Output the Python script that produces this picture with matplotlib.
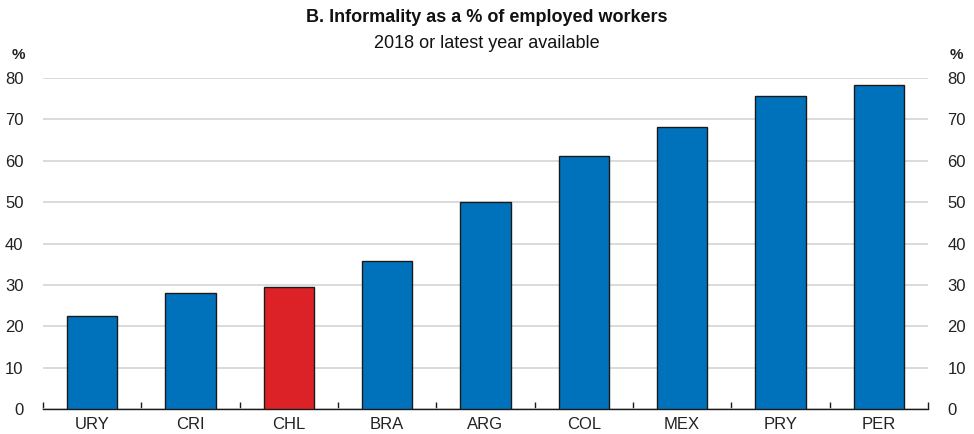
import numpy as np
import matplotlib.pyplot as plt
from matplotlib.ticker import MultipleLocator, FixedLocator

countries = ["URY", "CRI", "CHL", "BRA", "ARG", "COL", "MEX", "PRY", "PER"]
informality = [22.5, 28.1, 29.6, 35.8, 50.0, 61.1, 68.2, 75.6, 78.4]
highlight = "CHL"

blue = "#0072bc"
red = "#dc2227"

plt.rcParams['font.family'] = ['Liberation Sans Narrow', 'Liberation Sans', 'DejaVu Sans']

fig = plt.figure(figsize=(9.74, 4.34), dpi=100)
ax = fig.add_axes([43 / 974, 1 - 409 / 434, (928 - 43) / 974, (409 - 78) / 434])

x = np.arange(len(countries))
colors = [red if c == highlight else blue for c in countries]
ax.bar(x, informality, width=0.51, color=colors, edgecolor="#1a1a1a", linewidth=1.0, zorder=3)

ax.set_xlim(-0.5, len(countries) - 0.5)
ax.set_ylim(0, 80)
ax.yaxis.set_major_locator(MultipleLocator(10))
ax.grid(axis="y", color="#d4d4d4", linewidth=1.2, zorder=0)

for s in ["top", "left", "right"]:
    ax.spines[s].set_visible(False)
ax.spines["bottom"].set_color("#1a1a1a")
ax.spines["bottom"].set_linewidth(1.0)

ax.set_xticks(x)
ax.set_xticklabels(countries, fontsize=12, color="#222222")
ax.tick_params(axis="x", which="major", length=0, pad=6)
ax.xaxis.set_minor_locator(FixedLocator(np.arange(-0.5, len(countries), 1.0)))
ax.tick_params(axis="x", which="minor", direction="in", length=5, width=1.0, color="#1a1a1a")

ax.tick_params(axis="y", which="both", length=0, labelsize=12, labelcolor="#222222",
               left=True, right=True, labelleft=True, labelright=True, pad=14)

fig.text(12 / 974, 1 - 55 / 434, "%", fontsize=11, fontweight="bold", color="#222222", va="center")
fig.text(950 / 974, 1 - 55 / 434, "%", fontsize=11, fontweight="bold", color="#222222", va="center")

fig.text(0.5, 1 - 17 / 434, "B. Informality as a % of employed workers", ha="center", va="center",
         fontsize=13, fontweight="bold", color="#111111")
fig.text(0.5, 1 - 43 / 434, "2018 or latest year available", ha="center", va="center",
         fontsize=13, color="#111111")

fig.savefig("out.png", dpi=100)
